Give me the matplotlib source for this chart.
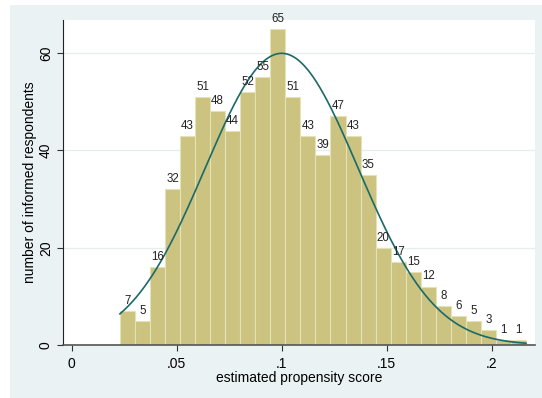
import numpy as np
import matplotlib
matplotlib.use('Agg')
from matplotlib import pyplot as plt
from matplotlib.patches import Rectangle

# histogram bins (estimated propensity score) and frequencies
bin_start = 0.023
bin_width = 0.00716
counts = [7, 5, 16, 32, 43, 51, 48, 44, 52, 55, 65, 51, 43, 39, 47,
          43, 35, 20, 17, 15, 12, 8, 6, 5, 3, 1, 1]

# normal density overlay parameters
norm_mean = 0.1
norm_sd = 0.0364

x_ticks = [0, 0.05, 0.1, 0.15, 0.2]
x_tick_labels = ['0', '.05', '.1', '.15', '.2']
y_ticks = [0, 20, 40, 60]

plt.rcParams['font.family'] = ['Liberation Sans', 'DejaVu Sans']

fig = plt.figure(figsize=(5.42, 3.98), dpi=100)
fig.patch.set_facecolor('white')
fig.patches.append(Rectangle((10 / 542, 0), 1, 1 - 5 / 398,
                             transform=fig.transFigure,
                             facecolor='#eaf2f3', edgecolor='none', zorder=-10))

ax = fig.add_axes([63 / 542, 53 / 398, 472 / 542, 325 / 398])
ax.set_facecolor('white')

edges = bin_start + bin_width * np.arange(len(counts))
ax.bar(edges, counts, width=bin_width, align='edge',
       color='#cbc37f', edgecolor='#e6e2b8', linewidth=0.8, zorder=2)

for e, c in zip(edges, counts):
    ax.annotate(str(c), (e + bin_width / 2, c), xytext=(0, 3),
                textcoords='offset points', ha='center', va='bottom',
                fontsize=8.3, color='#222222', zorder=4)

# normal curve scaled to frequency
n = sum(counts)
xs = np.linspace(edges[0], edges[-1] + bin_width, 300)
ys = n * bin_width / (norm_sd * np.sqrt(2 * np.pi)) * np.exp(-0.5 * ((xs - norm_mean) / norm_sd) ** 2)
ax.plot(xs, ys, color='#1a6a6a', linewidth=1.2, zorder=3)

# format plot
ax.set_xlim(-0.0041, 0.2206)
ax.set_ylim(0, 66.8)
ax.set_xticks(x_ticks)
ax.set_xticklabels(x_tick_labels)
ax.set_yticks(y_ticks)
ax.set_yticklabels([str(v) for v in y_ticks], rotation=90, va='center')
ax.tick_params(axis='both', labelsize=10, length=4.3, width=0.8, color='#333333')
ax.tick_params(axis='x', pad=4)
ax.tick_params(axis='y', pad=3)
ax.grid(axis='y', color='#e4eeef', linewidth=0.9, zorder=0)
ax.set_axisbelow(True)
for s in ['top', 'right']:
    ax.spines[s].set_visible(False)
ax.spines['left'].set_color('#222222')
ax.spines['bottom'].set_color('#555555')
ax.spines['bottom'].set_linewidth(1.2)

ax.set_xlabel('estimated propensity score', fontsize=10, labelpad=0)
ax.set_ylabel('number of informed respondents', fontsize=10, labelpad=1)

fig.savefig('out.png', dpi=100)
